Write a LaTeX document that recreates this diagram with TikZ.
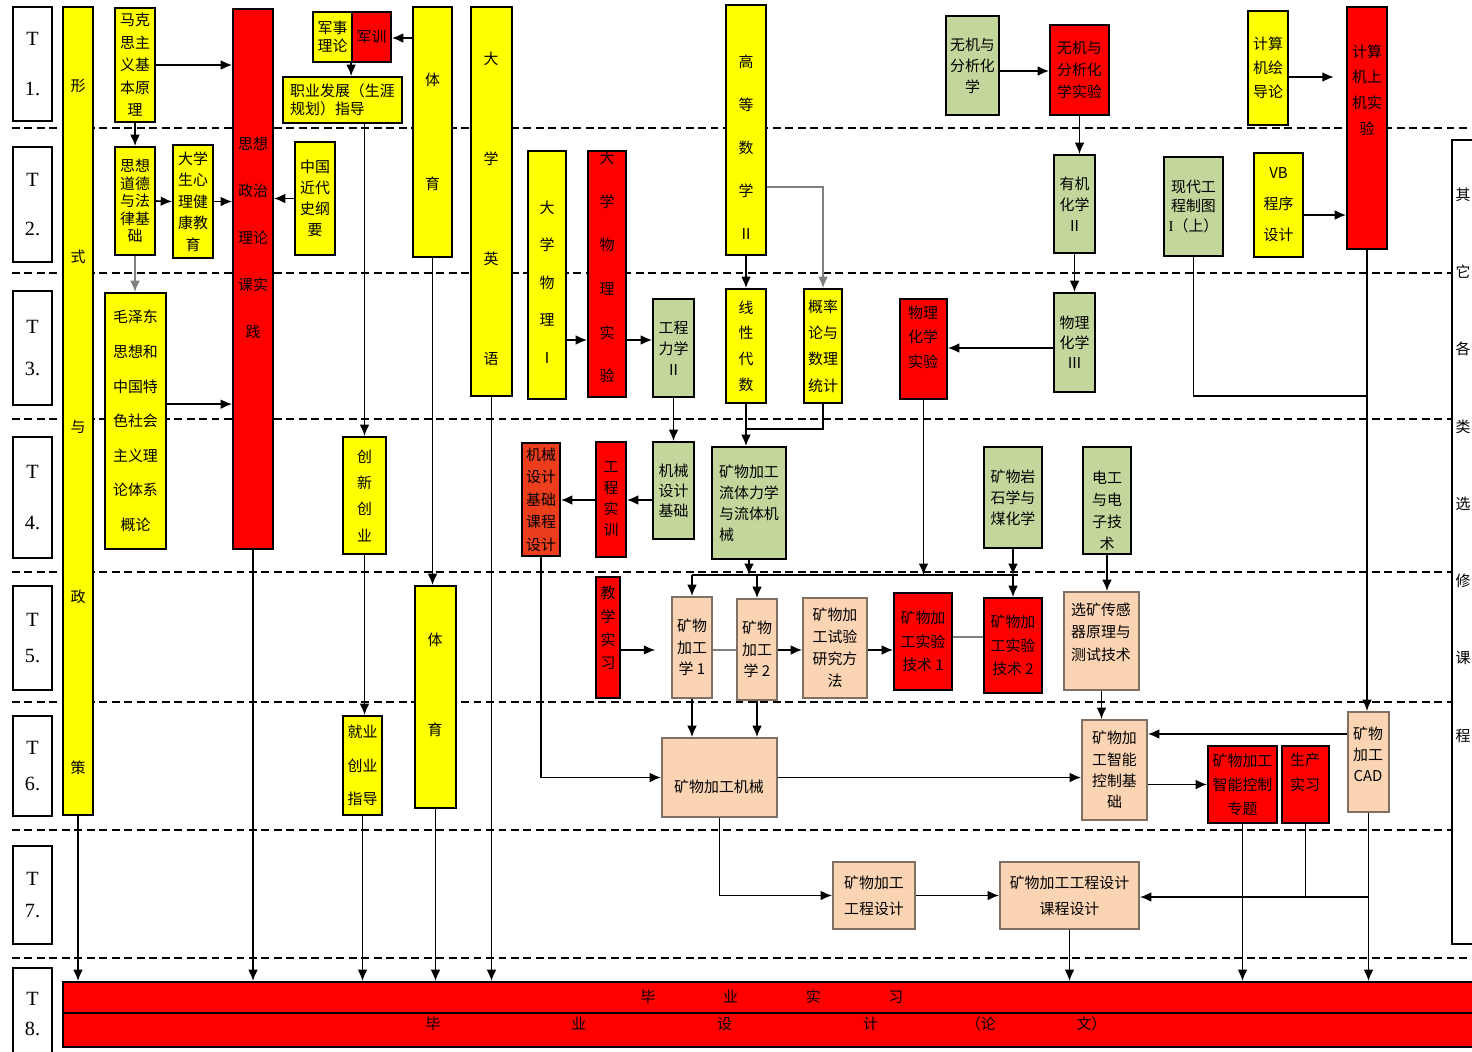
\documentclass[tikz,border=0pt]{standalone}
\usepackage{fontspec}
\setmainfont{Liberation Serif}
\newfontfamily\cjk{Noto Sans CJK SC}
\usetikzlibrary{arrows.meta}

\definecolor{cYellow}{RGB}{255,255,0}
\definecolor{cRed}{RGB}{255,0,0}
\definecolor{cGreen}{RGB}{195,214,155}
\definecolor{cPeach}{RGB}{251,212,180}
\definecolor{cOrange}{RGB}{236,62,28}
\definecolor{cPeachLine}{RGB}{128,112,100}

\begin{document}
\begin{tikzpicture}[x=0.02cm, y=-0.02cm, line width=0.9pt,
  cellat/.style args={#1/#2/#3/#4}{at={({(#1+#3)/2},{(#2+#4)/2})},
    minimum width={(#3-#1)*0.02cm}, minimum height={(#4-#2)*0.02cm}},
  cell/.style={draw, line width=1pt, inner sep=0pt, align=center, font=\cjk\fontsize{8.5}{12}\selectfont},
  ybox/.style={cell, fill=cYellow},
  rbox/.style={cell, fill=cRed},
  gbox/.style={cell, fill=cGreen},
  pbox/.style={cell, fill=cPeach, draw=cPeachLine},
  obox/.style={cell, fill=cOrange},
  wbox/.style={cell, fill=white},
  lh/.style={font=\cjk\fontsize{8.5}{#1}\selectfont},
  txt/.style={inner sep=0pt, align=center},
  arr/.style={-{Latex[length=6.5pt,width=5.5pt]}},
  sep/.style={dash pattern=on 4.5pt off 2.6pt, line width=1pt}]

\useasboundingbox (0,0) rectangle (1472,1052);
\fill[white] (0,0) rectangle (1472,1052);
\clip (0,0) rectangle (1472,1052);

% ---------- terms ----------
\foreach \y in {128,273,419,572,702,830,958}
  \draw[sep] (12,\y) -- (1472,\y);
\foreach \n/\ya/\yb/\s in {1/7/121/28, 2/147/262/28, 3/291/405/24, 4/437/558/29, 5/586/690/21, 6/716/816/20, 7/846/944/18, 8/968/1060/17}
  \node[wbox, font=\fontsize{11.5}{\s}\selectfont, cellat=13/\ya/52/\yb] (T\n) {T\\\n.};

% rails for horizontal connectors
\coordinate (rJ) at (0,38);
\coordinate (rP) at (0,71);
\coordinate (rN) at (0,77);
\coordinate (rB) at (0,187);
\coordinate (rL) at (0,215);
\coordinate (rA) at (0,340);
\coordinate (rQ) at (0,348);
\coordinate (rD) at (0,396);
\coordinate (rC) at (0,429);
\coordinate (rM) at (0,500);
\coordinate (bus) at (0,575);
\coordinate (rG) at (0,637);
\coordinate (rF) at (0,650);
\coordinate (rE) at (0,734);
\coordinate (rH) at (0,897);

% ---------- political / general courses ----------
\node[ybox, cellat=63/7/93/815] (xscl) {};
\node[txt, lh=97pt] (xscl-t) at (78,427) {形\\式\\与\\政\\策};
\node[ybox, lh=12.8pt, cellat=115/8/155/122] (mks) {马克\\思主\\义基\\本原\\理};
\node[ybox, lh=10pt, cellat=115/147/155/255] (sxdd) {思想\\道德\\与法\\律基\\础};
\node[ybox, lh=12.2pt, cellat=173/145/213/258] (xljk) {大学\\生心\\理健\\康教\\育};
\node[ybox, lh=19.7pt, cellat=105/293/166/549] (mzd) {毛泽东\\思想和\\中国特\\色社会\\主义理\\论体系\\概论};
\node[rbox, cellat=233/9/273/549] (szsj) {};
\node[txt, lh=26.7pt] (szsj-t) at (253,238) {思想\\政治\\理论\\课实\\践};
\node[ybox, lh=10.2pt, cellat=313/12/352/62] (jsll) {军事\\理论};
\node[rbox, cellat=352/12/391/62] (junxun) {军训};
\node[ybox, lh=10pt, align=left, cellat=283/77/402/123] (zyfz) {职业发展（生涯\\规划）指导};
\node[ybox, lh=12pt, cellat=295/142/335/255] (zgjds) {中国\\近代\\史纲\\要};
\node[ybox, lh=59.5pt, cellat=413/7/452/257] (tiyu1) {体\\育};
\node[ybox, lh=15pt, cellat=343/437/386/554] (cxcy) {创\\新\\创\\业};
\node[ybox, lh=19pt, cellat=343/716/382/815] (jycy) {就业\\创业\\指导};
\node[ybox, cellat=415/586/456/808] (tiyu2) {};
\node[txt, lh=51pt] (tiyu2-t) at (435,685) {体\\育};
\node[ybox, cellat=471/7/512/396] (dxyy) {};
\node[txt, lh=57pt] (dxyy-t) at (491,209) {大\\学\\英\\语};

% ---------- physics and mechanics ----------
\node[ybox, cellat=528/151/566/399] (dxwl) {};
\node[txt, lh=21.3pt] (dxwl-t) at (547,282) {大\\学\\物\\理\\Ⅰ};
\node[rbox, cellat=588/151/626/397] (wlsy) {};
\node[txt, lh=24.8pt] (wlsy-t) at (607,267) {大\\学\\物\\理\\实\\验};
\node[gbox, lh=12pt, cellat=653/299/694/397] (gclx) {工程\\力学\\Ⅱ};
\node[gbox, lh=11.3pt, cellat=653/442/694/539] (jxsj) {机械\\设计\\基础};
\node[rbox, lh=12pt, cellat=596/442/626/557] (gcsx) {工\\程\\实\\训};
\node[obox, lh=12.8pt, cellat=522/443/560/556] (jxkc) {机械\\设计\\基础\\课程\\设计};

% ---------- mathematics ----------
\node[ybox, cellat=726/5/766/255] (gdsx) {};
\node[txt, lh=24.4pt] (gdsx-t) at (746,147) {高\\等\\数\\学\\Ⅱ};
\node[ybox, lh=14.6pt, cellat=726/289/766/403] (xxds) {线\\性\\代\\数};
\node[ybox, lh=15pt, cellat=804/289/842/403] (gltj) {概率\\论与\\数理\\统计};
\node[gbox, lh=12pt, align=left, cellat=712/447/786/559] (ltlx) {矿物加工\\流体力学\\与流体机\\械};

% ---------- chemistry ----------
\node[gbox, lh=12pt, cellat=946/16/999/115] (wjhx) {无机与\\分析化\\学};
\node[rbox, lh=12.5pt, cellat=1050/25/1109/115] (wjsy) {无机与\\分析化\\学实验};
\node[gbox, lh=12pt, cellat=1054/155/1095/253] (yjhx) {有机\\化学\\Ⅱ};
\node[gbox, lh=11.3pt, cellat=1054/293/1095/392] (wlhx) {物理\\化学\\Ⅲ};
\node[rbox, cellat=900/299/947/399] (whsy) {};
\node[txt, lh=13.9pt] (whsy-t) at (923,337) {物理\\化学\\实验};
\node[gbox, lh=12pt, cellat=984/447/1042/548] (ysxx) {矿物岩\\石学与\\煤化学};
\node[gbox, cellat=1083/447/1131/554] (dgdz) {};
\node[txt, lh=12.5pt] (dgdz-t) at (1107,511) {电工\\与电\\子技\\术};

% ---------- drawing and computing ----------
\node[gbox, lh=11.3pt, cellat=1164/157/1223/256] (gczt) {现代工\\程制图\\{\rmfamily I}（上）};
\node[ybox, lh=13.6pt, cellat=1248/11/1288/125] (jsjdl) {计算\\机绘\\导论};
\node[rbox, cellat=1347/7/1387/249] (sjsy) {};
\node[txt, lh=14.7pt] (sjsy-t) at (1367,90) {计算\\机上\\机实\\验};
\node[ybox, lh=17.6pt, cellat=1254/153/1303/257] (vbcx) {VB\\程序\\设计};
\node[wbox, cellat=1452/140/1500/944] (xxkc) {};
\node[txt, lh=44pt] (xxkc-t) at (1463,465) {其\\它\\各\\类\\选\\修\\课\\程};

% ---------- mineral processing ----------
\node[rbox, cellat=596/577/620/698] (jxsx) {};
\node[txt, lh=13.2pt] (jxsx-t) at (608,628) {教\\学\\实\\习};
\node[pbox, lh=12.2pt, cellat=672/597/712/698] (kjx1) {矿物\\加工\\学 1};
\node[pbox, lh=12.2pt, cellat=737/599/777/700] (kjx2) {矿物\\加工\\学 2};
\node[pbox, lh=12.5pt, cellat=803/598/867/698] (syff) {矿物加\\工试验\\研究方\\法};
\node[rbox, lh=13.3pt, cellat=894/593/952/690] (sys1) {矿物加\\工实验\\技术 1};
\node[rbox, lh=13.3pt, cellat=984/598/1042/693] (sys2) {矿物加\\工实验\\技术 2};
\node[pbox, cellat=1064/592/1139/690] (cgq) {};
\node[txt, lh=12.8pt] (cgq-t) at (1101,632) {选矿传感\\器原理与\\测试技术};
\node[pbox, cellat=662/738/777/817] (kjjx) {};
\node[txt, lh=12pt] (kjjx-t) at (719,787) {矿物加工机械};
\node[pbox, lh=12.2pt, cellat=1082/720/1147/820] (znkz) {矿物加\\工智能\\控制基\\础};
\node[rbox, lh=13.6pt, cellat=1208/746/1277/823] (znzt) {矿物加工\\智能控制\\专题};
\node[rbox, cellat=1282/746/1329/823] (scsx) {};
\node[txt, lh=14pt] (scsx-t) at (1305,772) {生产\\实习};
\node[pbox, cellat=1348/712/1389/812] (kcad) {};
\node[txt, lh=12pt] (kcad-t) at (1368,754) {矿物\\加工\\CAD};
\node[pbox, lh=14.7pt, cellat=833/862/915/929] (gcsj) {矿物加工\\工程设计};
\node[pbox, lh=14.7pt, cellat=1000/862/1139/929] (kcsj) {矿物加工工程设计\\课程设计};

% ---------- graduation ----------
\node[rbox, cellat=63/982/1500/1013] (bysx) {};
\node[txt, lh=12pt] (bysx-t) at (772,997) {毕\hspace{38.5pt}业\hspace{38.5pt}实\hspace{38.5pt}习};
\node[rbox, cellat=63/1013/1500/1047] (bysj) {};
\node[txt, lh=12pt] (bysj-t) at (766,1024) {毕\hspace{74.5pt}业\hspace{74.5pt}设\hspace{74.5pt}计\hspace{50pt}（论\hspace{46pt}文）};

% ---------- connectors ----------
\draw[arr] (mks.east) -- (mks.east -| szsj.west);
\draw[arr] (mks.south) -- (sxdd.north);
\draw[arr] (sxdd.east) -- (xljk.west);
\draw[arr] (xljk.east) -- (xljk.east -| szsj.west);
\draw[arr, gray] (sxdd.south) -- (sxdd.south |- mzd.north);
\draw[arr] ([yshift=9.6pt]mzd.east) -- ([yshift=9.6pt]mzd.east -| szsj.west);
\draw[arr] (zgjds.west) -- (zgjds.west -| szsj.east);
\draw[arr] (tiyu1.west |- rJ) -- (junxun.east |- rJ);
\draw[arr] (junxun.south west) -- (junxun.south west |- zyfz.north);
\draw[arr] (cxcy.north |- zyfz.south) -- (cxcy.north);
\draw[arr] (cxcy.south) -- (cxcy.south |- jycy.north);
\draw[arr] (tiyu1.south) -- (tiyu1.south |- tiyu2.north);

\draw[arr] (dxwl.east |- rA) -- (wlsy.west |- rA);
\draw[arr] (wlsy.east |- rA) -- (gclx.west |- rA);
\draw[arr] (gclx.south) -- (jxsj.north);
\draw[arr] (jxsj.west |- rM) -- (gcsx.east |- rM);
\draw[arr] (gcsx.west |- rM) -- (jxkc.east |- rM);
\draw[arr] (jxkc.south) |- (kjjx.west);

\draw[arr] (gdsx.south) -- (xxds.north);
\draw[arr, gray] (gdsx.east |- rB) -| (gltj.north);
\draw[arr] (xxds.south) -- (xxds.south |- ltlx.north);
\draw (gltj.south) |- (xxds.south |- rC);
\draw[arr] (ltlx.south) -- (ltlx.south |- bus);

\draw[arr] (wjhx.east |- rP) -- (wjsy.west |- rP);
\draw[arr] (wjsy.south) -- (wjsy.south |- yjhx.north);
\draw[arr] (yjhx.south) -- (wlhx.north);
\draw[arr] (wlhx.west |- rQ) -- (whsy.east |- rQ);
\draw[arr] (whsy.south) -- (whsy.south |- bus);
\draw[arr] (ysxx.south) -- (ysxx.south |- bus);
\draw[arr] (ysxx.south |- bus) -- (ysxx.south |- sys2.north);
\draw[arr] (dgdz.south) -- (dgdz.south |- cgq.north);

\draw[arr, shorten >=7pt] (jsjdl.east |- rN) -- (sjsy.west |- rN);
\draw[arr] (vbcx.east |- rL) -- (sjsy.west |- rL);
\draw (gczt.south) |- (sjsy.south |- rD);
\draw[arr] (sjsy.south) -- (sjsy.south |- kcad.north);

% bus of the fifth term
\draw (kjx1.north |- bus) -- ([xshift=3pt]ysxx.south |- bus);
\draw[arr] (kjx1.north |- bus) -- (kjx1.north);
\draw[arr] (kjx2.north |- bus) -- (kjx2.north);
\draw[arr, shorten >=9pt] (jxsx.east |- rF) -- (kjx1.west |- rF);
\draw[gray] (kjx1.east |- rF) -- (kjx2.west |- rF);
\draw[arr] (kjx2.east |- rF) -- (syff.west |- rF);
\draw[arr] (syff.east |- rF) -- (sys1.west |- rF);
\draw[gray] (sys1.east |- rG) -- (sys2.west |- rG);
\draw[arr] (kjx1.south) -- (kjx1.south |- kjjx.north);
\draw[arr] (kjx2.south) -- (kjx2.south |- kjjx.north);

\draw[arr] (cgq.south) -- (cgq.south |- znkz.north);
\draw[arr] (kcad.west |- rE) -- (znkz.east |- rE);
\draw[arr] (kjjx.east) -- (kjjx.east -| znkz.west);
\draw[arr] (znkz.east |- znzt.west) -- (znzt.west);
\draw[arr] (kjjx.south) |- (gcsj.west);
\draw[arr] (gcsj.east) -- (kcsj.west);
\draw (scsx.south) -- (scsx.south |- rH);
\draw[arr] (kcad.south |- rH) -- (kcsj.east |- rH);

% ---------- into the graduation bar ----------
\foreach \src in {xscl, szsj, jycy, tiyu2, dxyy, kcsj, znzt, kcad}
  \draw[arr] (\src.south) -- (\src.south |- bysx.north);

\end{tikzpicture}
\end{document}
